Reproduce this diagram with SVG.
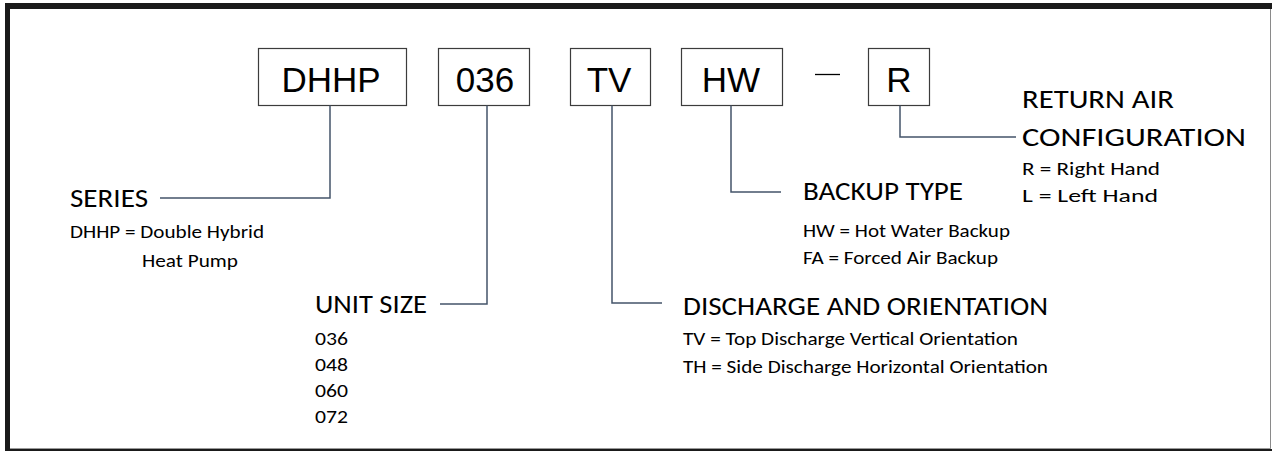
<svg xmlns="http://www.w3.org/2000/svg" width="1272" height="451" viewBox="0 0 1272 451">
<style>
.box{fill:#fff;stroke:#3c3c3c;stroke-width:1.2}
.code{font-family:"Liberation Sans",Arial,sans-serif;font-size:35px;fill:#000;text-anchor:middle}
.head{font-family:Carlito,Lato,"Open Sans",sans-serif;font-size:26px;fill:#000}
.sub{font-family:Carlito,Lato,"Open Sans",sans-serif;font-size:18.5px;fill:#000}
.conn{fill:none;stroke:#44546a;stroke-width:1.5}
</style>
<rect x="0" y="0" width="1272" height="451" fill="#fff"/>
<g id="frame">
<rect x="5" y="3" width="1267" height="448" fill="#1a1a1a"/>
<rect x="10" y="9" width="1262" height="440" fill="#fff"/>
<line x1="1270.5" y1="9" x2="1270.5" y2="449" stroke="#8a8a8a" stroke-width="1"/>
<line x1="10" y1="448.5" x2="1271" y2="448.5" stroke="#9a9a9a" stroke-width="1"/>
</g>
<g id="box-dhhp"><rect class="box" x="258.5" y="48.5" width="148" height="57"/><text class="code" x="331" y="92">DHHP</text></g>
<g id="box-036"><rect class="box" x="438.5" y="48.5" width="91" height="57"/><text class="code" x="485" y="92">036</text></g>
<g id="box-tv"><rect class="box" x="570.5" y="48.5" width="80" height="57"/><text class="code" x="609" y="92">TV</text></g>
<g id="box-hw"><rect class="box" x="681.5" y="48.5" width="101" height="57"/><text class="code" x="731" y="92">HW</text></g>
<g id="dash"><line x1="815" y1="74.5" x2="840" y2="74.5" stroke="#000" stroke-width="1.3"/></g>
<g id="box-r"><rect class="box" x="868.5" y="48.5" width="61" height="57"/><text class="code" x="899" y="92">R</text></g>
<g id="connectors">
<polyline class="conn" points="330,105.5 330,198 160,198"/>
<polyline class="conn" points="487,105.5 487,304 440,304"/>
<polyline class="conn" points="612,105.5 612,303 662,303"/>
<polyline class="conn" points="731,105.5 731,192 781,192"/>
<polyline class="conn" points="900,105.5 900,137 1016,137"/>
</g>
<g id="series">
<text class="head" x="70" y="207" textLength="78" lengthAdjust="spacingAndGlyphs">SERIES</text>
<text class="sub" x="70" y="238" textLength="194" lengthAdjust="spacingAndGlyphs">DHHP = Double Hybrid</text>
<text class="sub" x="142" y="267" textLength="96" lengthAdjust="spacingAndGlyphs">Heat Pump</text>
</g>
<g id="unit-size">
<text class="head" x="315" y="313" textLength="112" lengthAdjust="spacingAndGlyphs">UNIT SIZE</text>
<text class="sub" x="315" y="345" textLength="33" lengthAdjust="spacingAndGlyphs">036</text>
<text class="sub" x="315" y="371" textLength="33" lengthAdjust="spacingAndGlyphs">048</text>
<text class="sub" x="315" y="397" textLength="33" lengthAdjust="spacingAndGlyphs">060</text>
<text class="sub" x="315" y="423" textLength="33" lengthAdjust="spacingAndGlyphs">072</text>
</g>
<g id="discharge">
<text class="head" x="683" y="315" textLength="365" lengthAdjust="spacingAndGlyphs">DISCHARGE AND ORIENTATION</text>
<text class="sub" x="683" y="345" textLength="335" lengthAdjust="spacingAndGlyphs">TV = Top Discharge Vertical Orientation</text>
<text class="sub" x="683" y="373" textLength="365" lengthAdjust="spacingAndGlyphs">TH = Side Discharge Horizontal Orientation</text>
</g>
<g id="backup">
<text class="head" x="803" y="200" textLength="160" lengthAdjust="spacingAndGlyphs">BACKUP TYPE</text>
<text class="sub" x="803" y="237" textLength="207" lengthAdjust="spacingAndGlyphs">HW = Hot Water Backup</text>
<text class="sub" x="803" y="264" textLength="195" lengthAdjust="spacingAndGlyphs">FA = Forced Air Backup</text>
</g>
<g id="return-air">
<text class="head" x="1022" y="108" textLength="152" lengthAdjust="spacingAndGlyphs">RETURN AIR</text>
<text class="head" x="1022" y="146" textLength="224" lengthAdjust="spacingAndGlyphs">CONFIGURATION</text>
<text class="sub" x="1022" y="175" textLength="138" lengthAdjust="spacingAndGlyphs">R = Right Hand</text>
<text class="sub" x="1022" y="202" textLength="136" lengthAdjust="spacingAndGlyphs">L = Left Hand</text>
</g>
</svg>
